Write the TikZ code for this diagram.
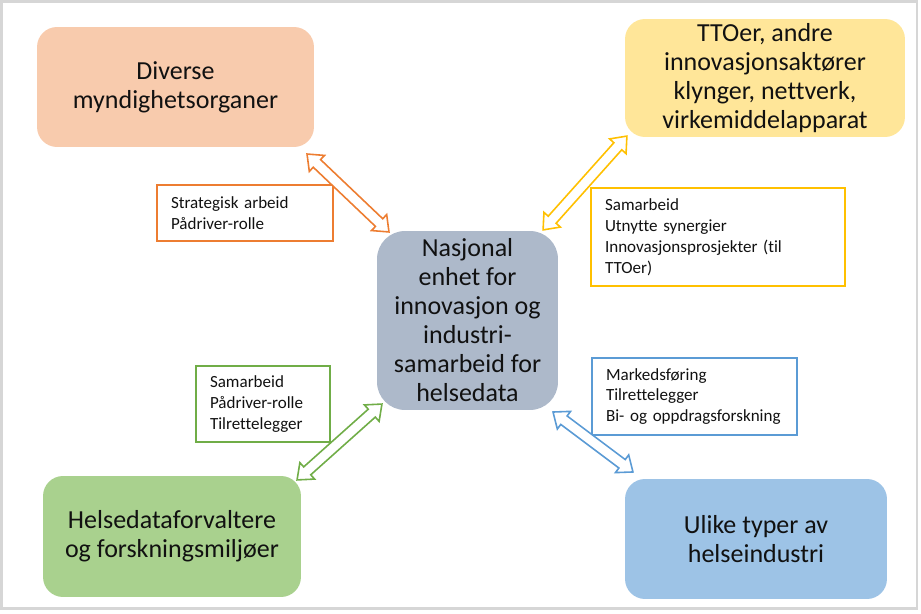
\documentclass[tikz,border=0pt]{standalone}
\usepackage{fontspec}
\setmainfont{Carlito}[Ligatures=NoCommon]
\usepackage{tikz}
\usetikzlibrary{calc,shapes.arrows}
\definecolor{ink}{HTML}{111111}
\definecolor{frame}{HTML}{D6D6D6}
\definecolor{peach}{HTML}{F8CBAD}
\definecolor{sand}{HTML}{FFE699}
\definecolor{slate}{HTML}{ADB9CA}
\definecolor{leaf}{HTML}{A9D18E}
\definecolor{sky}{HTML}{9DC3E6}
\definecolor{orange}{HTML}{ED7D31}
\definecolor{gold}{HTML}{FFC000}
\definecolor{green}{HTML}{70AD47}
\definecolor{blue}{HTML}{5B9BD5}
\tikzset{
  unit/.style={rounded corners=0.4cm, align=center, inner sep=0pt, text=ink,
    font=\fontsize{14.8}{16.5}\selectfont},
  hub/.style={unit, fill=slate, rounded corners=0.56cm,
    minimum width=3.62cm, minimum height=3.58cm},
  role/.style={draw=#1, line width=0.9pt, fill=white, align=left, text=ink,
    inner xsep=0.28cm, inner ysep=0pt, font=\fontsize{9.7}{11.9}\selectfont},
  flow/.style={double arrow, draw=#1, fill=white, line width=0.9pt,
    inner xsep=0pt, inner ysep=0.09cm,
    double arrow head extend=0.115cm, double arrow tip angle=78}
}

\begin{document}
\begin{tikzpicture}[x=0.02cm, y=-0.02cm]
  \useasboundingbox (0,0) rectangle (921,614);
  \draw[frame, line width=1.2pt] (1.5,1.5) rectangle (917,608.5);

  % main actors
  \node[hub] (hub) at (467.5,320.5)
    {Nasjonal\\enhet for\\innovasjon og\\industri-\\samarbeid for\\helsedata};
  \node[unit, fill=peach, minimum width=5.54cm, minimum height=2.4cm] (myndighet) at (175.5,87)
    {Diverse\\myndighetsorganer};
  \node[unit, fill=sand, minimum width=5.6cm, minimum height=2.36cm] (tto) at (765,78)
    {TTOer, andre\\innovasjonsaktører\\klynger, nettverk,\\virkemiddelapparat};
  \node[unit, fill=leaf, minimum width=5.16cm, minimum height=2.42cm] (forskning) at (172,536.5)
    {Helsedataforvaltere\\og forskningsmiljøer};
  \node[unit, fill=sky, minimum width=5.24cm, minimum height=2.4cm] (industri) at (756,539)
    {Ulike typer av\\helseindustri};

  % roles
  \node[role=orange, text width=2.96cm, minimum height=1.12cm] (strategi) at (245,213)
    {Strategisk arbeid\\Pådriver-rolle};
  \node[role=gold, text width=4.52cm, minimum height=1.96cm] (samarbeid) at (718,237)
    {Samarbeid\\Utnytte synergier\\Innovasjonsprosjekter (til\\TTOer)};
  \node[role=green, text width=2.12cm, minimum height=1.52cm] (tilrette) at (263,404)
    {Samarbeid\\Pådriver-rolle\\Tilrettelegger};
  \node[role=blue, text width=3.54cm, minimum height=1.54cm] (marked) at (694.5,396.5)
    {Markedsføring\\Tilrettelegger\\Bi- og oppdragsforskning};

  % arrow ends
  \coordinate (o1) at (307,154);
  \coordinate (o2) at (389,232);
  \coordinate (y1) at (627,136);
  \coordinate (y2) at (543,230);
  \coordinate (g1) at (382,404);
  \coordinate (g2) at (297,480);
  \coordinate (b1) at (553,412);
  \coordinate (b2) at (633,472);

  \path let \p1=($(o2)-(o1)$), \n1={veclen(\x1,\y1)} in
    (o1) -- (o2) node[flow=orange, midway, sloped, minimum height=\n1] (ofl) {};
  \path let \p1=($(y2)-(y1)$), \n1={veclen(\x1,\y1)} in
    (y1) -- (y2) node[flow=gold, midway, sloped, minimum height=\n1] (yfl) {};
  \path let \p1=($(g2)-(g1)$), \n1={veclen(\x1,\y1)} in
    (g1) -- (g2) node[flow=green, midway, sloped, minimum height=\n1] (gfl) {};
  \path let \p1=($(b2)-(b1)$), \n1={veclen(\x1,\y1)} in
    (b1) -- (b2) node[flow=blue, midway, sloped, minimum height=\n1] (bfl) {};
\end{tikzpicture}
\end{document}
